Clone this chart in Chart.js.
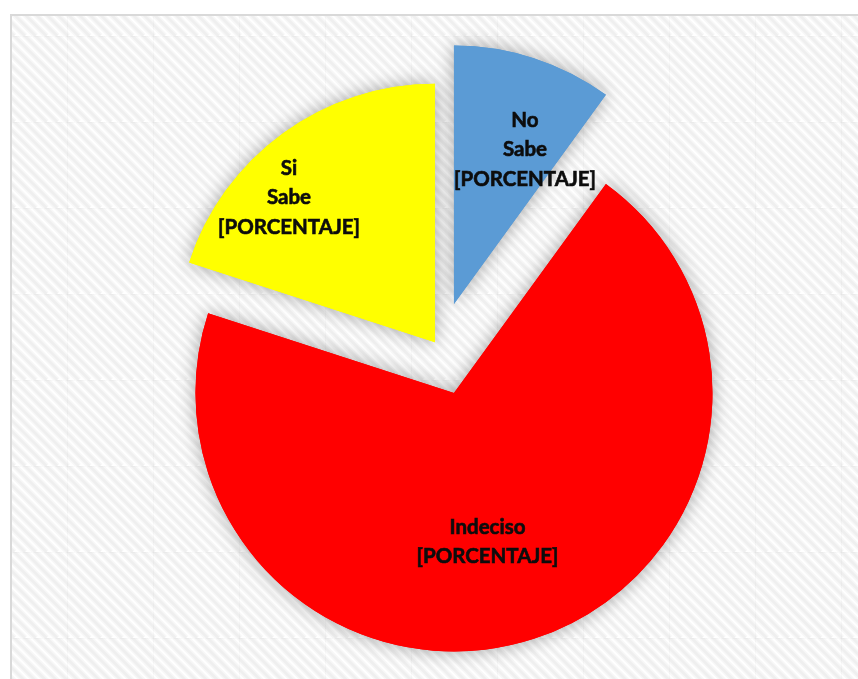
<!DOCTYPE html>
<html>
<head>
<meta charset="utf-8">
<script src="https://cdn.jsdelivr.net/npm/chart.js@4.4.0/dist/chart.umd.min.js"></script>
<style>
  html, body { margin: 0; padding: 0; background: #fff; }
  #wrap { width: 858px; height: 679px; }
</style>
</head>
<body>
<div id="wrap"><canvas id="pie" width="858" height="679"></canvas></div>
<script>
// Datos del gráfico
const categorias = ['No Sabe', 'Indeciso', 'Si Sabe'];
const valores = [10, 70, 20];
const etiquetas = [
    ['No', 'Sabe', '[PORCENTAJE]'],
    ['Indeciso', '[PORCENTAJE]'],
    ['Si', 'Sabe', '[PORCENTAJE]']
];
const colores = ['#5b9bd5', '#ff0000', '#ffff00'];

// Mosaico rayado del fondo (86x86)
function crearMosaico() {
    const t = document.createElement('canvas');
    t.width = 86; t.height = 86;
    const c = t.getContext('2d');
    c.fillStyle = '#ffffff';
    c.fillRect(0, 0, 86, 86);
    const paso = 86 / 8;
    c.lineCap = 'butt';
    for (let i = -86; i <= 172; i += paso) {
        c.strokeStyle = 'rgba(0,0,0,0.03)';
        c.lineWidth = 6;
        c.beginPath(); c.moveTo(i, -1); c.lineTo(i + 87, 86); c.stroke();
        c.lineWidth = 3;
        c.beginPath(); c.moveTo(i, -1); c.lineTo(i + 87, 86); c.stroke();
    }
    // costuras tenues
    c.fillStyle = 'rgba(0,0,0,0.02)';
    c.fillRect(0, 0, 86, 1);
    c.fillRect(0, 0, 1, 86);
    return t;
}
const mosaico = crearMosaico();

const fondo = {
    id: 'fondo',
    beforeDraw(chart) {
        const ctx = chart.ctx;
        ctx.save();
        ctx.fillStyle = '#ffffff';
        ctx.fillRect(0, 0, chart.width, chart.height);
        const pat = ctx.createPattern(mosaico, 'repeat');
        pat.setTransform(new DOMMatrix().translate(-19, -50));
        ctx.fillStyle = pat;
        ctx.fillRect(12, 16, chart.width, chart.height);
        ctx.strokeStyle = '#d9d9d9';
        ctx.lineWidth = 2;
        ctx.strokeRect(11, 15, chart.width + 20, chart.height + 20);
        ctx.restore();
    }
};

// Porciones separadas del centro, con sombra
const explotar = {
    id: 'explotar',
    beforeDatasetsDraw(chart, args, opts) {
        const ctx = chart.ctx;
        const meta = chart.getDatasetMeta(0);
        const pintar = (conSombra) => {
            meta.data.forEach((arc, i) => {
                const mid = (arc.startAngle + arc.endAngle) / 2;
                const d = opts.distancias[i];
                ctx.save();
                if (conSombra) {
                    ctx.shadowColor = 'rgba(0,0,0,0.35)';
                    ctx.shadowBlur = 18;
                }
                ctx.translate(Math.cos(mid) * d, Math.sin(mid) * d);
                arc.draw(ctx);
                ctx.restore();
            });
        };
        pintar(true);
        pintar(false);
        return false;
    }
};

const rotulos = {
    id: 'rotulos',
    afterDraw(chart, args, opts) {
        const ctx = chart.ctx;
        const meta = chart.getDatasetMeta(0);
        ctx.save();
        ctx.font = 'bold 20.5px Lato';
        ctx.fillStyle = '#0d0d0d';
        ctx.strokeStyle = '#0d0d0d';
        ctx.lineWidth = 0.6;
        ctx.textAlign = 'center';
        ctx.textBaseline = 'middle';
        meta.data.forEach((arc, i) => {
            const [dx, dy] = opts.posiciones[i];
            const lineas = etiquetas[i];
            const alto = 29.5;
            const y0 = arc.y + dy - (lineas.length - 1) * alto / 2;
            lineas.forEach((txt, k) => {
                ctx.fillText(txt, arc.x + dx, y0 + k * alto);
                ctx.strokeText(txt, arc.x + dx, y0 + k * alto);
            });
        });
        ctx.restore();
    }
};

var ctxPie = document.getElementById('pie').getContext('2d');
var miPie = new Chart(ctxPie, {
    type: 'pie',
    data: {
        labels: categorias,
        datasets: [{
            data: valores,
            backgroundColor: colores,
            borderWidth: 0,
            radius: 258.5
        }]
    },
    options: {
        responsive: false,
        animation: false,
        radius: 258.5,
        layout: { padding: { left: 21, top: 18, right: 0, bottom: 0 } },
        plugins: {
            legend: { display: false },
            tooltip: { enabled: false },
            explotar: { distancias: [46.8, 46.8, 7.7] },
            rotulos: { posiciones: [[85.5, -199], [48, 193.5], [-150.5, -151]] }
        }
    },
    plugins: [fondo, explotar, rotulos]
});
</script>
</body>
</html>
